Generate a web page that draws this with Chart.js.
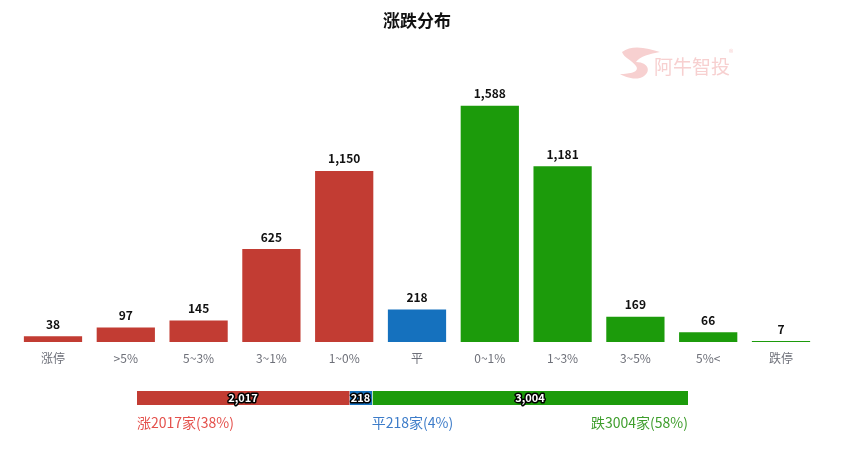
<!DOCTYPE html>
<html><head><meta charset="utf-8">
<script src="https://cdn.jsdelivr.net/npm/chart.js@4/dist/chart.umd.min.js"></script>
<style>
html,body{margin:0;padding:0;background:#fff;}
#wrap{position:relative;width:843px;height:454px;}
canvas{position:absolute;left:0;}
</style></head>
<body>
<div id="wrap">
<canvas id="main" width="843" height="380" style="top:0"></canvas>
<canvas id="sum" width="843" height="74" style="top:380px"></canvas>
</div>
<script>
const categories = ['涨停','>5%','5~3%','3~1%','1~0%','平','0~1%','1~3%','3~5%','5%<','跌停'];
const counts = [38,97,145,625,1150,218,1588,1181,169,66,7];
const summaryLabels = ['涨','平','跌'];
const summaryValues = [2017,218,3004];
const summaryPercents = [38,4,58];

const RED='#c23c33', BLUE='#1571be', GREEN='#1c9b0b';
const FONT='"Noto Sans CJK SC","Noto Sans",sans-serif';
const fmt = v => v.toLocaleString('en-US');
const barColors = categories.map((c,i)=> i<5?RED:(i===5?BLUE:GREEN));

const valueLabels = {
  id:'valueLabels',
  afterDatasetsDraw(chart){
    const ctx=chart.ctx; ctx.save();
    ctx.font='bold 12px '+FONT; ctx.fillStyle='#111';
    ctx.textAlign='center'; ctx.textBaseline='middle';
    chart.getDatasetMeta(0).data.forEach((bar,i)=>{
      ctx.fillText(fmt(counts[i]), bar.x, bar.y-12);
    });
    ctx.restore();
  }
};
const watermark = {
  id:'watermark',
  beforeDraw(chart){
    const ctx=chart.ctx; ctx.save();
    ctx.fillStyle='#f7d0d0';
    ctx.beginPath();
    ctx.moveTo(622,52);
    ctx.bezierCurveTo(632,44,648,48,660,52);
    ctx.bezierCurveTo(650,54,640,56,636,62);
    ctx.bezierCurveTo(650,62,652,74,640,78);
    ctx.bezierCurveTo(632,80,624,76,620,74);
    ctx.bezierCurveTo(630,74,640,72,636,66);
    ctx.bezierCurveTo(632,60,624,58,622,52);
    ctx.fill();
    ctx.font='19px '+FONT; ctx.textBaseline='middle'; ctx.textAlign='left';
    ctx.fillText('阿牛智投', 654, 67);
    ctx.font='9px '+FONT; ctx.fillText('®', 729, 53);
    ctx.restore();
  }
};

new Chart(document.getElementById('main'), {
  type:'bar',
  data:{labels:categories, datasets:[{data:counts, backgroundColor:barColors, borderWidth:0,
    categoryPercentage:0.8, barPercentage:1}]},
  options:{
    responsive:false, animation:false,
    layout:{padding:{left:16.6,right:25.6,top:0,bottom:0}},
    plugins:{
      legend:{display:false}, tooltip:{enabled:false},
      title:{display:true, text:'涨跌分布', color:'#111', font:{family:FONT,size:17,weight:'bold'}, padding:{top:10,bottom:14}}
    },
    scales:{
      x:{grid:{display:false}, border:{display:false},
         ticks:{color:'#6e7079', font:{family:FONT,size:12}, padding:1, maxRotation:0, autoSkip:false},
         afterFit:s=>{s.height=38;}},
      y:{display:false, min:0, max:2000}
    }
  },
  plugins:[valueLabels, watermark]
});

const total = summaryValues.reduce((a,b)=>a+b,0);
const sumColors=[RED,BLUE,GREEN];
const textColors=['#e4514c','#3d7cc9','#3f9e2d'];
const sumPlugin = {
  id:'sumPlugin',
  afterDatasetsDraw(chart){
    const ctx=chart.ctx; ctx.save();
    ctx.font='bold 11px '+FONT; ctx.textAlign='center'; ctx.textBaseline='middle';
    ctx.lineJoin='round';
    chart.data.datasets.forEach((ds,i)=>{
      const el=chart.getDatasetMeta(i).data[0];
      const cx=(el.base+el.x)/2, cy=el.y;
      ctx.lineWidth=3; ctx.strokeStyle='#000'; ctx.strokeText(fmt(summaryValues[i]),cx,cy);
      ctx.fillStyle='#fff'; ctx.fillText(fmt(summaryValues[i]),cx,cy);
    });
    ctx.font='14px '+FONT; ctx.textBaseline='middle';
    const a=chart.chartArea, y=43;
    const txt=i=>summaryLabels[i]+summaryValues[i]+'家('+summaryPercents[i]+'%)';
    ctx.fillStyle=textColors[0]; ctx.textAlign='left'; ctx.fillText(txt(0),a.left,y);
    ctx.fillStyle=textColors[1]; ctx.textAlign='center'; ctx.fillText(txt(1),(a.left+a.right)/2,y);
    ctx.fillStyle=textColors[2]; ctx.textAlign='right'; ctx.fillText(txt(2),a.right,y);
    ctx.restore();
  }
};
new Chart(document.getElementById('sum'), {
  type:'bar',
  data:{labels:['sum'], datasets:summaryValues.map((v,i)=>({data:[v], backgroundColor:sumColors[i],
    borderColor:'#fff', borderSkipped:false, borderWidth:i===0?0:{left:1,right:0,top:0,bottom:0},
    categoryPercentage:1, barPercentage:1}))},
  options:{
    indexAxis:'y', responsive:false, animation:false,
    layout:{padding:{left:137,right:155,top:11,bottom:49}},
    plugins:{legend:{display:false}, tooltip:{enabled:false}, title:{display:false}},
    scales:{
      x:{display:false, stacked:true, min:0, max:total},
      y:{display:false, stacked:true}
    }
  },
  plugins:[sumPlugin]
});
</script>
</body></html>
